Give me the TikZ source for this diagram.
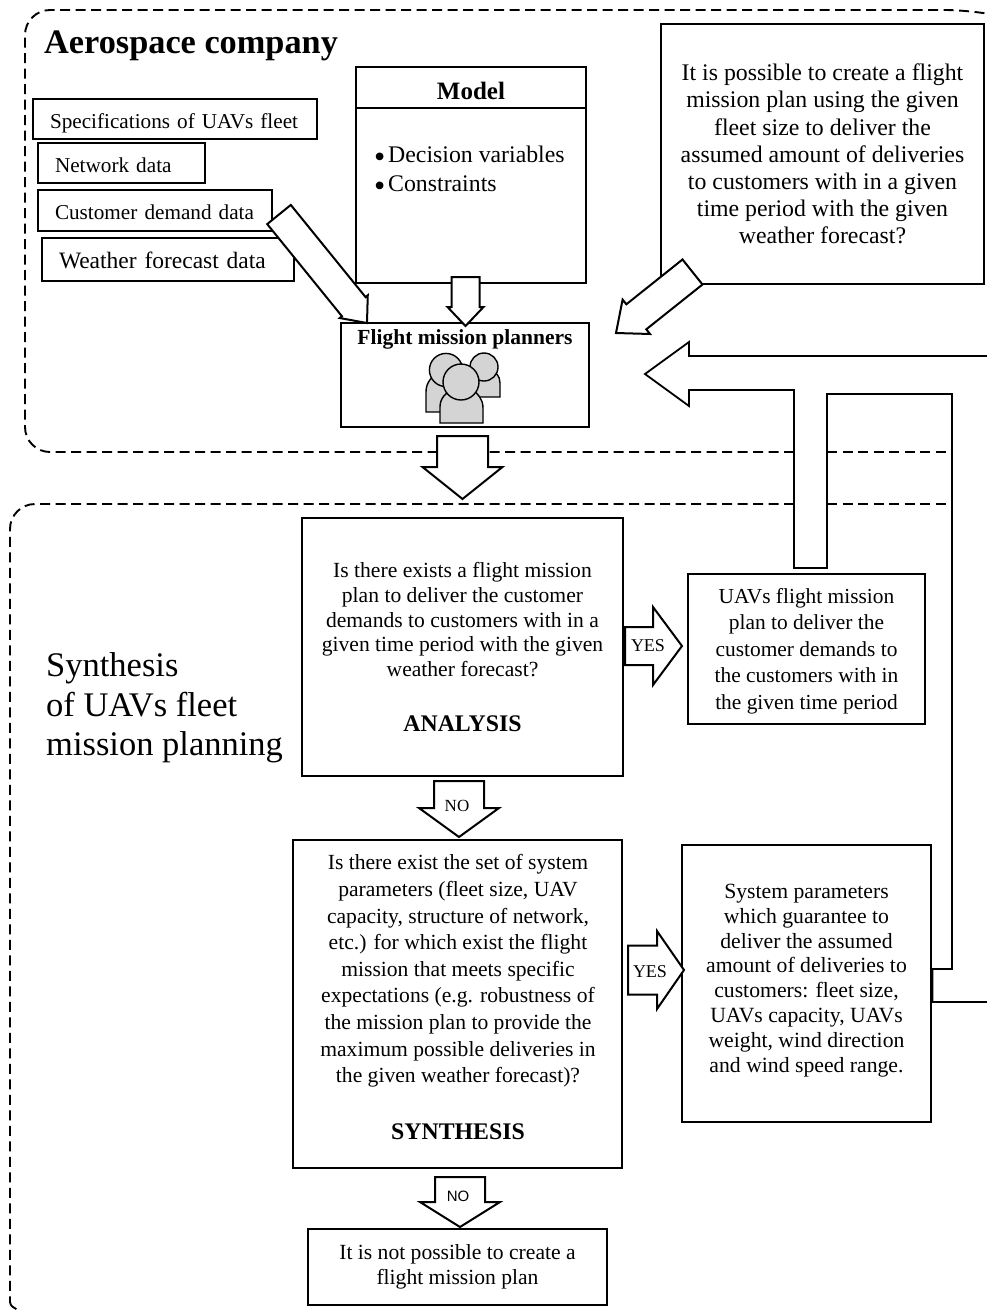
\documentclass[tikz,border=0pt]{standalone}
\usepackage{fontspec}
\setmainfont{Liberation Serif}
\newfontfamily\nosans{Liberation Sans}
\usetikzlibrary{calc,positioning}
\tikzset{
	box/.style={draw,line width=1.5pt,align=center,outer sep=0pt,inner sep=0pt,fill=white},
	databox/.style={box,align=left,inner xsep=17pt,text width=#1,text height=21pt,text depth=3pt,font=\fontsize{21.2}{25}\selectfont},
	regionline/.style={line width=1.9pt,dash pattern=on 10pt off 5.5pt},
	bigar/.style={draw,line width=2pt,fill=white,line join=miter},
	person/.style={draw,line width=1.4pt,fill=black!17}
}
\newcommand{\blockar}[5]{
	\coordinate (headbase) at ($(#2)!#5pt!(#1)$);
	\draw[bigar] ($(#1)!#3pt!90:(#2)$) -- ($(headbase)!#3pt!-90:(#1)$) -- ($(headbase)!#4pt!-90:(#1)$) -- (#2)
		-- ($(headbase)!#4pt!90:(#1)$) -- ($(headbase)!#3pt!90:(#1)$) -- ($(#1)!#3pt!-90:(#2)$) -- cycle;
}
\newcommand{\stagename}[1]{{\fontsize{23.8}{24}\selectfont\bfseries #1}}
\newcommand{\bigdot}{\makebox[15pt][l]{\hspace{1pt}\raisebox{-5pt}{\fontsize{32}{29}\selectfont\textbullet}}}
\begin{document}
\begin{tikzpicture}[x=1pt,y=-1pt]
      \useasboundingbox (0,0) rectangle (987,1310);
      \draw[regionline,rounded corners=25pt] (794,452) -- (25,452) -- (25,10) -- (970,10) -- (985,13);
      \draw[regionline] (827,452) -- (950,452);
      \draw[regionline,rounded corners=25pt] (794,504) -- (10,504) -- (10,1302);
      \draw[regionline] (10,1302) .. controls (11,1306) .. (18,1310);
      \draw[regionline] (827,504) -- (950,504);
      \node[anchor=west,inner sep=0pt,font=\fontsize{34.3}{38}\selectfont\bfseries] (aerotitle) at (44,46) {Aerospace company};
      \node[anchor=west,inner sep=0pt,align=left,font=\fontsize{34.5}{39.5}\selectfont] (synthtitle) at (46,708) {Synthesis\\of UAVs fleet\\mission planning};
      \node[box,minimum width=230pt,minimum height=41pt,text height=24pt,text depth=1pt,font=\fontsize{25}{29}\selectfont\bfseries] (modeltitle) at (471,87.5) {Model};
      \node[box,below=0pt of modeltitle,minimum width=230pt,minimum height=175pt] (modelbody) {};
      \node[anchor=west,inner sep=0pt,align=left,font=\fontsize{23.8}{29}\selectfont] (modeltext) at (373,171.5) {\bigdot Decision variables\\\bigdot Constraints};
      \node[databox=250pt,minimum height=40pt] (fleetdata) at (175,119) {Specifications of UAVs fleet};
      \node[databox=133pt,minimum height=40pt] (networkdata) at (121.5,163) {Network data};
      \node[databox=200pt,minimum height=41pt] (demanddata) at (155,210.5) {Customer demand data};
      \node[databox=218pt,minimum height=43pt,font=\fontsize{23.5}{27}\selectfont] (weatherdata) at (168,259.5) {Weather forecast data};
      \node[box,minimum width=323pt,minimum height=260pt,font=\fontsize{23.8}{27.2}\selectfont] (questionbox) at (822.5,154) {It is possible to create a flight\\mission plan using the given\\fleet size to deliver the\\assumed amount of deliveries\\to customers with in a given\\time period with the given\\weather forecast?};
      \node[box,minimum width=248pt,minimum height=104pt] (plannerbox) at (465,375) {};
      \node[anchor=north,font=\fontsize{21.5}{24}\selectfont\bfseries,inner sep=0pt] (plannertitle) at (465,329) {Flight mission planners};
      \draw[person] (426,412) -- (426,392) .. controls (426,382) and (432,376) .. (440,372) -- (470,372) -- (470,412) -- cycle;
      \draw[person] (446,370) circle (16.6pt);
      \draw[person] (500,397) -- (500,383) .. controls (500,376) and (496,372) .. (490,369) -- (470,369) -- (470,397) -- cycle;
      \draw[person] (484,367) circle (14pt);
      \draw[person] (440,423) -- (440,407) .. controls (440,398) and (446,393) .. (452,389) -- (472,389) .. controls (478,394) and (483,399) .. (483,408) -- (483,423) -- cycle;
      \draw[person] (461,382) circle (18pt);
      \node[box,minimum width=321pt,minimum height=258pt,font=\fontsize{21.6}{24.7}\selectfont] (analysisbox) at (462.5,647) {Is there exists a flight mission\\plan to deliver the customer\\demands to customers with in a\\given time period with the given\\weather forecast?\\[30pt]\stagename{ANALYSIS}};
      \node[box,minimum width=237pt,minimum height=150pt] (planbox) at (806.5,649) {};
      \node[align=center,font=\fontsize{21.4}{26.5}\selectfont] (plantext) at (806.5,651) {UAVs flight mission\\plan to deliver the\\customer demands to\\the customers with in\\the given time period};
      \node[box,minimum width=329pt,minimum height=328pt] (synthbox) at (457.5,1004) {};
      \node[align=center,font=\fontsize{21.6}{26.6}\selectfont] (synthtext) at (458,997) {Is there exist the set of system\\parameters (fleet size, UAV\\capacity, structure of network,\\etc.) for which exist the flight\\mission that meets specific\\expectations (e.g. robustness of\\the mission plan to provide the\\maximum possible deliveries in\\the given weather forecast)?\\[30pt]\stagename{SYNTHESIS}};
      \node[box,minimum width=249pt,minimum height=277pt] (sysbox) at (806.5,983.5) {};
      \node[align=center,font=\fontsize{21.7}{24.8}\selectfont] (systext) at (806.5,980.5) {System parameters\\which guarantee to\\deliver the assumed\\amount of deliveries to\\customers: fleet size,\\UAVs capacity, UAVs\\weight, wind direction\\and wind speed range.};
      \node[box,minimum width=299pt,minimum height=76pt,font=\fontsize{21.6}{25}\selectfont] (failbox) at (457.5,1267) {It is not possible to create a\\flight mission plan};
      \coordinate (demandout) at ($(demanddata.south east)+(7,-16.5)$);
      \coordinate (demandin) at ($(plannerbox.north west)+(26,0)$);
      \blockar{demandout}{demandin}{15.2}{18}{21}
      \coordinate (modelout) at ($(modelbody.south)+(-5.5,-6)$);
      \coordinate (modelin) at ($(plannerbox.north)+(0.5,3)$);
      \blockar{modelout}{modelin}{14}{18}{19}
      \coordinate (questionout) at ($(questionbox.south west)+(31.5,-12)$);
      \coordinate (questionin) at ($(plannerbox.north east)+(27,10)$);
      \blockar{questionout}{questionin}{16}{22}{26}
      \coordinate (plannerout) at ($(plannerbox.south)+(-2.5,9)$);
      \coordinate (regionin) at ($(analysisbox.north)+(0,-19)$);
      \blockar{plannerout}{regionin}{25.5}{40}{32}
      \coordinate (yesaout) at ($(analysisbox.east)+(2,-1)$);
      \coordinate (yesain) at ($(planbox.west)+(-6,-3)$);
      \blockar{yesaout}{yesain}{19}{39}{29}
      \node[font=\fontsize{18}{20}\selectfont] (yesa) at (648,646) {YES};
      \coordinate (noaout) at ($(analysisbox.south)+(-3.5,5)$);
      \coordinate (noain) at ($(synthbox.north)+(1.5,-3)$);
      \blockar{noaout}{noain}{25}{40}{29}
      \node[font=\fontsize{17}{20}\selectfont] (noa) at (457,806) {NO};
      \coordinate (yesbout) at ($(synthbox.east)+(6,-34)$);
      \coordinate (yesbin) at ($(sysbox.west)+(2,-13.5)$);
      \blockar{yesbout}{yesbin}{24.5}{39}{27}
      \node[font=\fontsize{18}{20}\selectfont] (yesb) at (650,972) {YES};
      \coordinate (nobout) at ($(synthbox.south)+(2.5,9)$);
      \coordinate (nobin) at ($(failbox.north)+(2.5,-2)$);
      \blockar{nobout}{nobin}{25}{40}{25}
      \node[font=\fontsize{15}{18}\selectfont\nosans] (nob) at (458,1196) {NO};
      \coordinate (fleettop) at (987,356);
      \coordinate (fleetbottom) at (987,1002);
      \draw[line width=1.8pt,line join=miter] (fleettop) -- (689,356) -- (689,342) -- (645,374) -- (689,406) -- (689,390) -- (794,390) -- (794,568) -- (827,568) -- (827,394) -- (952,394) -- (952,969) -- ($(sysbox.east)+(1.5,-14.5)$) -- ($(sysbox.east)+(1.5,18.5)$) -- (fleetbottom);
\end{tikzpicture}
\end{document}
